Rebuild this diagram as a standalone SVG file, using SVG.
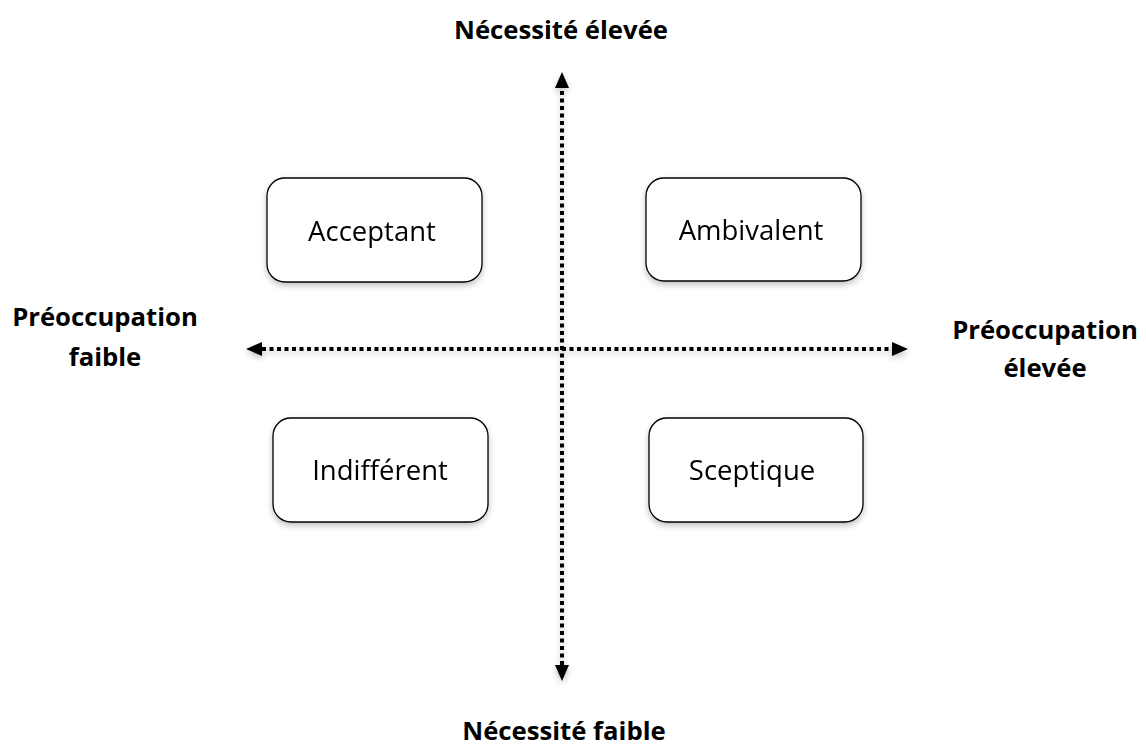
<svg xmlns="http://www.w3.org/2000/svg" width="1146" height="751" viewBox="0 0 1146 751">
<style>
.box{fill:#fff;stroke:#000;stroke-width:1.3;}
.lbl{font-family:"Open Sans","Liberation Sans",sans-serif;font-size:27.5px;fill:#000;text-anchor:middle;}
.ax{font-family:"Open Sans","Liberation Sans",sans-serif;font-size:25.7px;font-weight:bold;fill:#000;text-anchor:middle;}
.axis{stroke:#000;stroke-width:4;stroke-dasharray:4 3.5;fill:none;}
</style>
<defs>
<filter id="sh" x="-20%" y="-20%" width="140%" height="140%">
<feGaussianBlur in="SourceAlpha" stdDeviation="3"/>
<feOffset dx="0" dy="3" result="b"/>
<feComponentTransfer><feFuncA type="linear" slope="0.25"/></feComponentTransfer>
<feMerge><feMergeNode/><feMergeNode in="SourceGraphic"/></feMerge>
</filter>
<marker id="ah" viewBox="0 0 16 14" refX="0" refY="7" markerWidth="16" markerHeight="14" markerUnits="userSpaceOnUse" orient="auto-start-reverse">
<path d="M0,0 L16,7 L0,14 Z" fill="#000"/>
</marker>
</defs>
<g id="connectors" filter="url(#sh)">
<line class="axis" x1="562" y1="665" x2="562" y2="88" marker-start="url(#ah)" marker-end="url(#ah)"/>
<line class="axis" x1="262" y1="349" x2="892" y2="349" marker-start="url(#ah)" marker-end="url(#ah)"/>
</g>
<g id="acceptant" filter="url(#sh)">
<rect class="box" x="267" y="178" width="215" height="104" rx="18"/>
<text class="lbl" x="372" y="241">Acceptant</text>
</g>
<g id="ambivalent" filter="url(#sh)">
<rect class="box" x="646" y="178" width="215" height="103" rx="18"/>
<text class="lbl" x="751" y="240">Ambivalent</text>
</g>
<g id="indifferent" filter="url(#sh)">
<rect class="box" x="273" y="418" width="215" height="104" rx="18"/>
<text class="lbl" x="380" y="480">Indifférent</text>
</g>
<g id="sceptique" filter="url(#sh)">
<rect class="box" x="649" y="418" width="214" height="104" rx="18"/>
<text class="lbl" x="752" y="480">Sceptique</text>
</g>
<g id="label-top"><text class="ax" x="561" y="39">Nécessité élevée</text></g>
<g id="label-bottom"><text class="ax" x="564" y="740">Nécessité faible</text></g>
<g id="label-left"><text class="ax" x="105" y="326">Préoccupation</text><text class="ax" x="105" y="366">faible</text></g>
<g id="label-right"><text class="ax" x="1045" y="339">Préoccupation</text><text class="ax" x="1045" y="377">élevée</text></g>
</svg>
